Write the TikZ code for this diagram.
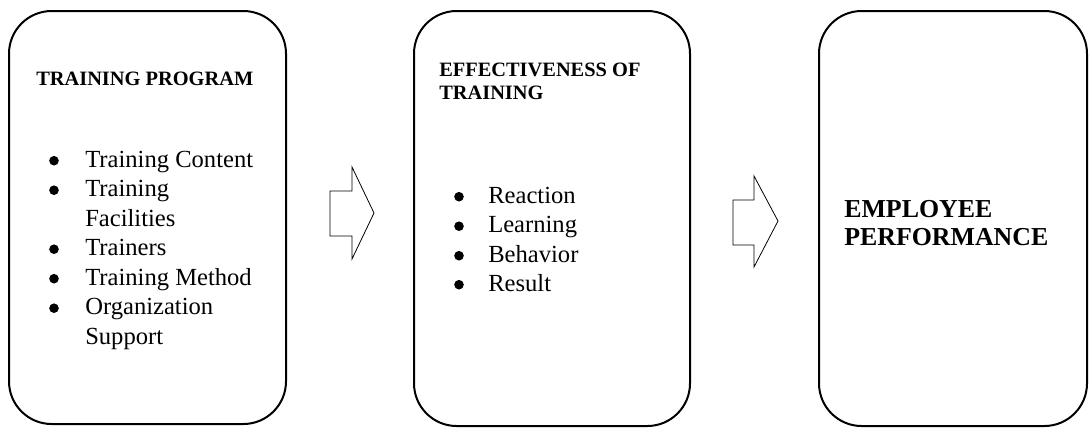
\documentclass[tikz,border=0pt]{standalone}
\usepackage{fontspec}
\setmainfont{Liberation Serif}
\begin{document}
\begin{tikzpicture}[x=0.75pt,y=-0.75pt,
  box/.style={draw, line width=1.5pt, rounded corners=32pt, inner sep=0pt},
  blockarrow/.style={draw, line width=0.6pt, line join=miter},
  boxtitle/.style={anchor=base west, inner sep=0pt, font=\bfseries\fontsize{15.3}{18}\selectfont},
  listitem/.style={anchor=base west, inner sep=0pt, font=\fontsize{18.45}{22}\selectfont},
  bigtitle/.style={anchor=base west, inner sep=0pt, font=\bfseries\fontsize{19.4}{23}\selectfont},
  bulletdot/.style={fill=black}]
\useasboundingbox (0,0) rectangle (1089,430);

% boxes
\node[box, minimum width=207.75pt, minimum height=309.75pt] (b1) at (147.5,217.5) {};
\node[box, minimum width=207pt, minimum height=311.25pt] (b2) at (552,218.5) {};
\node[box, minimum width=201pt, minimum height=311.25pt] (b3) at (953,218.5) {};

% box 1
\node[boxtitle] (t1) at (36,85) {TRAINING PROGRAM};
\foreach \y/\txt/\b [count=\i] in {167/Training Content/1, 196.5/Training/1, 226/Facilities/0,
    255.5/Trainers/1, 285/Training Method/1, 314.5/Organization/1, 344/Support/0}{
  \node[listitem] (l1\i) at (85,\y) {\txt};
  \ifnum\b=1 \fill[bulletdot] (54,\y-6.3) circle[radius=3.6pt]; \fi
}

% box 2
\node[boxtitle] (t2a) at (439,76) {EFFECTIVENESS OF};
\node[boxtitle] (t2b) at (439,99) {TRAINING};
\foreach \y/\txt [count=\i] in {203/Reaction, 232.5/Learning, 262/Behavior, 291/Result}{
  \node[listitem] (l2\i) at (488,\y) {\txt};
  \fill[bulletdot] (459,\y-6.3) circle[radius=3.6pt];
}

% box 3
\node[bigtitle] (t3a) at (844,217) {EMPLOYEE};
\node[bigtitle] (t3b) at (844,245) {PERFORMANCE};

% block arrows
\draw[blockarrow] (330,191) -- (352,191) -- (352,167) -- (374,213) -- (352,259) -- (352,236) -- (330,236) -- cycle;
\draw[blockarrow] (733,200) -- (754,200) -- (754,176) -- (778,221) -- (754,267) -- (754,245) -- (733,245) -- cycle;
\end{tikzpicture}
\end{document}
